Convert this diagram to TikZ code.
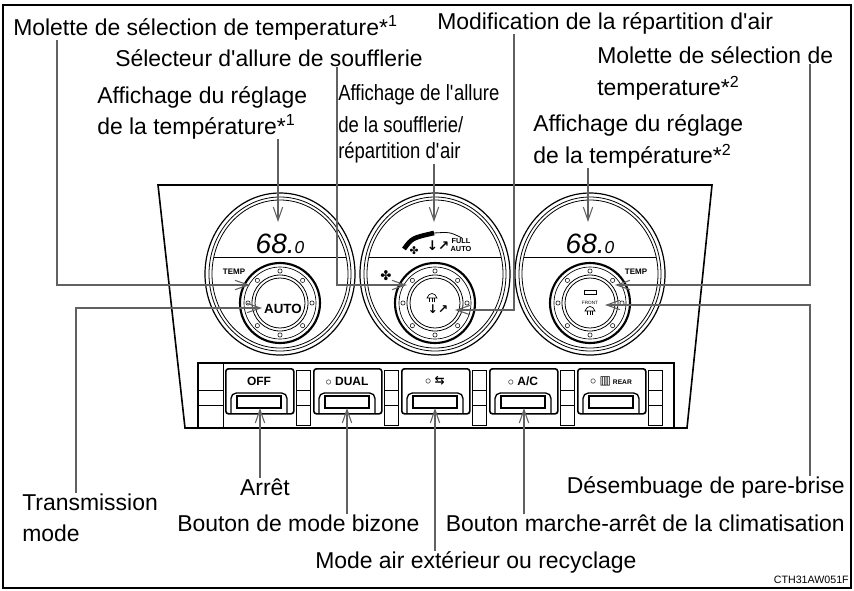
\documentclass[tikz,border=0pt]{standalone}
\usepackage{fontspec}
\setmainfont{Liberation Sans}
\newfontfamily\narrowfont[FakeStretch=0.84]{Liberation Sans}
\newfontfamily\symfont{DejaVu Sans}
\usetikzlibrary{arrows.meta, positioning, calc}

% one round dial: centre x, centre y, display content
\newcommand{\climdial}[3]{%
  \draw[line width=0.9pt] (#1,#2) ellipse[x radius=75*0.75pt, y radius=81*0.75pt];
  \draw[line width=0.6pt] (#1,#2) ellipse[x radius=71*0.75pt, y radius=77*0.75pt];
  \draw[line width=0.6pt] (#1,#2) ellipse[x radius=68*0.75pt, y radius=74*0.75pt];
  \draw[line width=0.6pt] (#1-66,257) -- (#1+66,257);
  \node[digits] at (#1,244) {#3};
  % knob
  \draw[line width=1.6pt] (#1,303) circle[radius=40*0.75pt];
  \draw[line width=0.5pt] (#1,303) circle[radius=36*0.75pt];
  \foreach \a in {0,45,...,315}
    \draw[line width=0.4pt] ($(#1,303)+(\a:32*0.75pt)$) circle[radius=1.6pt];
  \draw[line width=0.6pt] (#1,303) circle[radius=28*0.75pt];
  \draw[line width=0.6pt] (#1,303) circle[radius=25*0.75pt];
}
% small defroster sign
\newcommand{\defrost}[2]{%
  \draw[line width=0.5pt] (#1-5,#2+2) .. controls (#1-3,#2-4) and (#1+3,#2-4) .. (#1+5,#2+2) -- cycle;
  \draw[line width=0.4pt] (#1-2.5,#2+2) -- (#1-2.5,#2+6) (#1,#2+2) -- (#1,#2+6) (#1+2.5,#2+2) -- (#1+2.5,#2+6);
}

\begin{document}
\begin{tikzpicture}[
    x=0.75pt, y=-0.75pt,
    lbl/.style={inner sep=0pt, font=\fontsize{17.2}{20}\selectfont, anchor=west},
    thin lbl/.style={inner sep=0pt, font=\narrowfont\fontsize{16.5}{20}\selectfont, anchor=west},
    leader/.style={draw=black!62, line width=1.2pt, -{Straight Barb[length=10pt, width=7pt, line width=0.8pt]}},
    digits/.style={font=\fontsize{21}{21}\selectfont\itshape},
    btn/.style={draw, line width=1.2pt, rounded corners=2pt, minimum width=68*0.75pt, minimum height=45*0.75pt},
    tiny/.style={inner sep=0pt, font=\fontsize{6}{6}\selectfont\bfseries}
]
\useasboundingbox (0,0) rectangle (854,590);
\draw[line width=0.8pt] (3,5) rectangle (851,588);

% panel
\draw[line width=1.2pt] (185,428) -- (158,185) -- (712,185) -- (687,428) -- cycle;

% dials
\climdial{280}{274}{68.{\fontsize{13}{13}\selectfont 0}}
\climdial{435}{274}{}
\climdial{590}{274}{68.{\fontsize{13}{13}\selectfont 0}}

% dial markings
\node[tiny] at (234,272) {TEMP};
\node[tiny] at (636,272) {TEMP};
\node[font=\fontsize{10}{10}\selectfont\bfseries] at (283,309) {AUTO};
\node[font=\symfont\fontsize{10}{10}\selectfont] at (386,276) {✤};
\draw[line width=3.5pt] (404,249) .. controls (412,238) .. (434,233);
\draw[line width=0.6pt] (434,233) .. controls (450,232) .. (462,238);
\node[font=\symfont\fontsize{8}{8}\selectfont] at (414,251) {✤};
\node[font=\symfont\fontsize{10}{10}\selectfont\bfseries] at (438,246) {↓↗};
\node[tiny, align=center, font=\fontsize{5.5}{5.5}\selectfont\bfseries] at (461,245) {FULL\\AUTO};
\defrost{432}{296}
\node[font=\symfont\fontsize{9}{9}\selectfont\bfseries] at (438,309) {↓↗};
\draw[line width=0.6pt] (584,290) rectangle (596,294);
\node[tiny, font=\fontsize{3.5}{3.5}\selectfont] at (590,303) {FRONT};
\defrost{590}{309}

% button row
\draw[line width=1.2pt] (198,428) -- (198,363) -- (674,363) -- (674,428);
\draw[line width=0.5pt] (223,363) -- (223,428) (198,390) -- (223,390) (198,405) -- (223,405);
\foreach \bx/\bname/\btext in {225/boff/OFF, 313/bdual/{$\circ$\ DUAL}, 401/brec/{$\circ$\ \symfont ⇆}, 489/bac/{$\circ$\ A/C}, 577/brear/{$\circ$\ {\symfont ▥}\,\fontsize{5}{5}\selectfont REAR}} {
  \node[btn, anchor=north west] (\bname) at (\bx,368) {};
  \node[font=\fontsize{9}{9}\selectfont\bfseries] at (\bx+34,381) {\btext};
  \draw[line width=1pt, rounded corners=4pt] (\bx+6,413) -- (\bx+6,393) -- (\bx+62,393) -- (\bx+62,413);
  \draw[line width=0.9pt] (\bx+12,396) rectangle (\bx+56,408);
}
\foreach \sx in {296,384,472,560,648}
  \draw[line width=0.5pt] (\sx,370) rectangle (\sx+14,425) (\sx,390) -- (\sx+14,390) (\sx,405) -- (\sx+14,405);

% labels
\node[lbl] (moltemp1) at (13,28) {Molette de sélection de temperature*\textsuperscript{1}};
\node[lbl] (modrep) at (437,23) {Modification de la répartition d\textquotesingle air};
\node[lbl] (selall) at (115,58) {Sélecteur d\textquotesingle allure de soufflerie};
\node[lbl] (moltemp2a) at (597,55) {Molette de sélection de};
\node[lbl] (moltemp2b) at (597,88) {temperature*\textsuperscript{2}};
\node[lbl] (aff1a) at (97,97) {Affichage du réglage};
\node[lbl] (aff1b) at (97,127) {de la température*\textsuperscript{1}};
\node[thin lbl] (affalla) at (338,95) {Affichage de l\textquotesingle allure};
\node[thin lbl] (affallb) at (338,125) {de la soufflerie/};
\node[thin lbl] (affallc) at (338,153) {répartition d\textquotesingle air};
\node[lbl] (aff2a) at (533,125) {Affichage du réglage};
\node[lbl] (aff2b) at (533,156) {de la température*\textsuperscript{2}};
\node[lbl] (transa) at (22,502) {Transmission};
\node[lbl] (transb) at (22,533) {mode};
\node[lbl, anchor=center] (arret) at (265,487) {Arrêt};
\node[lbl] (bizone) at (177,523) {Bouton de mode bizone};
\node[lbl, anchor=east] (desemb) at (845,487) {Désembuage de pare-brise};
\node[lbl, anchor=east] (clim) at (845,523) {Bouton marche-arrêt de la climatisation};
\node[lbl] (recyc) at (315,562) {Mode air extérieur ou recyclage};
\node[inner sep=0pt, font=\fontsize{8}{8}\selectfont, anchor=east] (code) at (849,580) {CTH31AW051F};

% leader ends
\coordinate (knobL) at (250,285);
\coordinate (autoL) at (262,308);
\coordinate (knobM) at (407,285);
\coordinate (modeM) at (455,310);
\coordinate (knobR) at (615,285);
\coordinate (frontR) at (605,305);
\coordinate (dispL) at (278,222);
\coordinate (dispM) at (434,222);
\coordinate (dispR) at (588,222);
\coordinate (offT) at (260,408);
\coordinate (dualT) at (347,408);
\coordinate (recT) at (435,408);
\coordinate (acT) at (524,408);

% leaders
\draw[leader] (moltemp1.south -| 57,0) |- (knobL);
\draw[leader] (transa.north -| 76,0) |- (autoL);
\draw[leader] (selall.south -| 337,0) |- (knobM);
\draw[leader] (modrep.south -| 514,0) |- (modeM);
\draw[leader] (moltemp2a.south -| 810,0) |- (knobR);
\draw[leader] (desemb.north -| 810,0) |- (frontR);
\draw[leader] (aff1b.south -| dispL) -- (dispL);
\draw[leader] (affallc.south -| dispM) -- (dispM);
\draw[leader] (aff2b.south -| dispR) -- (dispR);
\draw[leader] (arret.north -| offT) -- (offT);
\draw[leader] (bizone.north -| dualT) -- (dualT);
\draw[leader] (recyc.north -| recT) -- (recT);
\draw[leader] (clim.north -| acT) -- (acT);
\end{tikzpicture}
\end{document}
